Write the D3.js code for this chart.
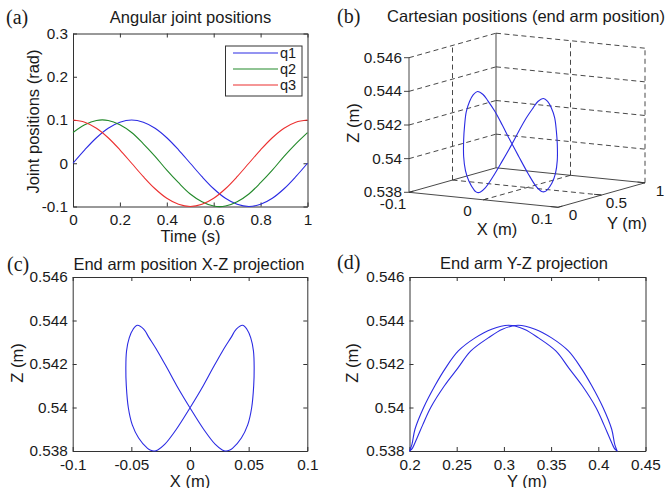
<!DOCTYPE html>
<html>
<head>
<meta charset="utf-8">
<script src="https://cdn.jsdelivr.net/npm/d3@7"></script>
<style>
  body { margin: 0; background: #fff; }
  text { font-family: "Liberation Sans", Arial, sans-serif; fill: #1a1a1a; }
  .serif { font-family: "Liberation Serif", "Times New Roman", serif; }
</style>
</head>
<body>
<svg id="fig" width="669" height="488"></svg>
<script>
// ---- Joint trajectories (rad) sampled every 0.05 s ----
const timeS = [0, 0.05, 0.1, 0.15, 0.2, 0.25, 0.3, 0.35, 0.4, 0.45, 0.5,
               0.55, 0.6, 0.65, 0.7, 0.75, 0.8, 0.85, 0.9, 0.95, 1];
const q1 = [0, 0.031, 0.059, 0.081, 0.095, 0.1, 0.095, 0.081, 0.059, 0.031, 0,
            -0.031, -0.059, -0.081, -0.095, -0.1, -0.095, -0.081, -0.059, -0.031, 0];
const q2 = [0.071, 0.089, 0.099, 0.099, 0.089, 0.071, 0.045, 0.016, -0.016, -0.045, -0.071,
            -0.089, -0.099, -0.099, -0.089, -0.071, -0.045, -0.016, 0.016, 0.045, 0.071];
const q3 = [0.1, 0.095, 0.081, 0.059, 0.031, 0, -0.031, -0.059, -0.081, -0.095, -0.1,
            -0.095, -0.081, -0.059, -0.031, 0, 0.031, 0.059, 0.081, 0.095, 0.1];
const jointNames = ["q1", "q2", "q3"];

// ---- End-effector path (m), one closed loop ----
const endX = [-0.0303, -0.0275, -0.0216, -0.0116, 0.0002, 0.0113, 0.0194, 0.0278, 0.0348, 0.0395, 0.0448,
              0.0485, 0.0518, 0.0541, 0.0547, 0.0543, 0.0526, 0.0492, 0.0438, 0.0362, 0.0335,
              0.0303, 0.0275, 0.0216, 0.0116, -0.0002, -0.0113, -0.0194, -0.0278, -0.0348, -0.0395, -0.0448,
              -0.0485, -0.0518, -0.0541, -0.0547, -0.0543, -0.0526, -0.0492, -0.0438, -0.0362, -0.0335];
const endY = [0.2000, 0.2005, 0.2026, 0.2058, 0.2150, 0.2269, 0.2380, 0.2517, 0.2695, 0.2870, 0.3050,
              0.3215, 0.3366, 0.3550, 0.3690, 0.3830, 0.3975, 0.4060, 0.4120, 0.4170, 0.4190,
              0.4200, 0.4195, 0.4174, 0.4142, 0.4050, 0.3931, 0.3820, 0.3683, 0.3505, 0.3330, 0.3150,
              0.2985, 0.2834, 0.2650, 0.2510, 0.2370, 0.2225, 0.2140, 0.2080, 0.2030, 0.2010];
const endZ = [0.5380, 0.53805, 0.5383, 0.5390, 0.5400, 0.5410, 0.5418, 0.5426, 0.5432, 0.5436, 0.54378,
              0.5436, 0.5432, 0.5426, 0.5418, 0.5410, 0.5400, 0.5392, 0.5386, 0.53812, 0.53803,
              0.5380, 0.53805, 0.5383, 0.5390, 0.5400, 0.5410, 0.5418, 0.5426, 0.5432, 0.5436, 0.54378,
              0.5436, 0.5432, 0.5426, 0.5418, 0.5410, 0.5400, 0.5392, 0.5386, 0.53812, 0.53803];

// ---- Tick values ----
const timeTicks = [0, 0.2, 0.4, 0.6, 0.8, 1];
const jointTicks = [-0.1, 0, 0.1, 0.2, 0.3];
const zTicks = [0.538, 0.54, 0.542, 0.544, 0.546];
const xTicks = [-0.1, -0.05, 0, 0.05, 0.1];
const yTicks = [0.2, 0.25, 0.3, 0.35, 0.4, 0.45];
const xTicks3d = [-0.1, 0, 0.1];
const yTicks3d = [0, 0.5, 1];

const jointColors = ["#2b2be3", "#22892a", "#ec2f2f"];
const pathColor = "#2b2be3";
const axisColor = "#333";
const TICK_FS = 15.3, LABEL_FS = 16.5;

const svg = d3.select("#fig");
const fmt = v => String(+v.toFixed(4));
const endPts = endX.map((x, i) => ({ x, y: endY[i], z: endZ[i] }));

function addText(txt, x, y, opts = {}) {
  const t = svg.append("text").attr("x", x).attr("y", y).text(txt)
    .attr("font-size", opts.size || LABEL_FS)
    .attr("text-anchor", opts.anchor || "middle");
  if (opts.cls) t.attr("class", opts.cls);
  if (opts.rotate) t.attr("x", 0).attr("y", 0)
    .attr("transform", `translate(${x},${y}) rotate(-90)`);
  return t;
}

// Framed 2-D axes with inward ticks on all four sides
function frame2d(box, xDom, yDom, xt, yt) {
  const x = d3.scaleLinear().domain(xDom).range([box.l, box.r]);
  const y = d3.scaleLinear().domain(yDom).range([box.b, box.t]);
  const g = svg.append("g");
  const style = sel => {
    sel.selectAll("path.domain").attr("stroke", axisColor).attr("stroke-width", 1);
    sel.selectAll(".tick line").attr("stroke", axisColor).attr("stroke-width", 1);
    sel.selectAll(".tick text").attr("font-size", TICK_FS).attr("fill", "#1a1a1a")
      .attr("font-family", '"Liberation Sans", Arial, sans-serif');
  };
  g.append("g").attr("transform", `translate(0,${box.b})`)
    .call(d3.axisBottom(x).tickValues(xt).tickFormat(fmt).tickSizeInner(-4).tickSizeOuter(0).tickPadding(8))
    .call(style);
  g.append("g").attr("transform", `translate(0,${box.t})`)
    .call(d3.axisTop(x).tickValues(xt).tickFormat("").tickSizeInner(-4).tickSizeOuter(0))
    .call(style);
  g.append("g").attr("transform", `translate(${box.l},0)`)
    .call(d3.axisLeft(y).tickValues(yt).tickFormat(fmt).tickSizeInner(-4).tickSizeOuter(0).tickPadding(5))
    .call(style);
  g.append("g").attr("transform", `translate(${box.r},0)`)
    .call(d3.axisRight(y).tickValues(yt).tickFormat("").tickSizeInner(-4).tickSizeOuter(0))
    .call(style);
  return { x, y };
}

// ---------- (a) Angular joint positions ----------
{
  const box = { l: 73, r: 307.5, t: 33.5, b: 206.5 };
  const { x, y } = frame2d(box, [0, 1], [-0.1, 0.3], timeTicks, jointTicks);
  const series = [q1, q2, q3];
  const line = d3.line().x((d, i) => x(timeS[i])).y(d => y(d)).curve(d3.curveCatmullRom);
  series.forEach((s, k) => {
    svg.append("path").datum(s).attr("d", line).attr("fill", "none")
      .attr("stroke", jointColors[k]).attr("stroke-width", 1.1);
  });
  // legend
  const lg = svg.append("g");
  lg.append("rect").attr("x", 225.5).attr("y", 46).attr("width", 76.5).attr("height", 50)
    .attr("fill", "#fff").attr("stroke", axisColor).attr("stroke-width", 1);
  jointNames.forEach((n, k) => {
    const yy = 53 + k * 16;
    lg.append("line").attr("x1", 233).attr("x2", 278).attr("y1", yy).attr("y2", yy)
      .attr("stroke", jointColors[k]).attr("stroke-width", 1.1);
    lg.append("text").attr("x", 280).attr("y", yy + 5).attr("font-size", 14.5).text(n);
  });
  addText("Angular joint positions", 190.5, 23);
  addText("Time (s)", 190.5, 241.5);
  addText("Joint positions (rad)", 38.5, 121.5, { rotate: true });
  addText("(a)", 6, 23.5, { cls: "serif", size: 20, anchor: "start" });
}

// ---------- (b) 3-D end-effector path ----------
{
  const sx = d3.scaleLinear().domain([-0.1, 0.1]).range([0, 1]);
  const sy = d3.scaleLinear().domain([0, 1]).range([0, 1]);
  const sz = d3.scaleLinear().domain([0.538, 0.546]).range([0, 1]);
  const origin = [409, 192.3], ex = [149, 15], ey = [87, -24.5], ez = [0, -134.6];
  const proj = (X, Y, Z) => {
    const a = sx(X), b = sy(Y), c = sz(Z);
    return [origin[0] + a * ex[0] + b * ey[0] + c * ez[0],
            origin[1] + a * ex[1] + b * ey[1] + c * ez[1]];
  };
  const [x0, x1] = sx.domain(), [y0, y1] = sy.domain(), [z0, z1] = sz.domain();
  const g = svg.append("g");
  const seg = (p, q, dashed) => g.append("line")
    .attr("x1", p[0]).attr("y1", p[1]).attr("x2", q[0]).attr("y2", q[1])
    .attr("stroke", axisColor).attr("stroke-width", 0.9)
    .attr("stroke-dasharray", dashed ? "5,3.5" : null);

  // grid on the back walls and floor
  zTicks.filter(z => z > z0).forEach(z => {
    seg(proj(x0, y0, z), proj(x0, y1, z), true);
    seg(proj(x0, y1, z), proj(x1, y1, z), true);
  });
  seg(proj(x0, 0.5, z0), proj(x0, 0.5, z1), true);
  xTicks3d.filter(v => v > x0).forEach(v => seg(proj(v, y1, z0), proj(v, y1, z1), true));
  seg(proj(0, y0, z0), proj(0, y1, z0), true);
  seg(proj(x0, 0.5, z0), proj(x1, 0.5, z0), true);

  // solid box edges and axes
  seg(proj(x0, y0, z0), proj(x1, y0, z0));
  seg(proj(x1, y0, z0), proj(x1, y1, z0));
  seg(proj(x0, y0, z0), proj(x0, y1, z0));
  seg(proj(x0, y1, z0), proj(x1, y1, z0));
  seg(proj(x0, y0, z0), proj(x0, y0, z1));
  seg(proj(x0, y1, z0), proj(x0, y1, z1));

  // ticks and labels
  zTicks.forEach(z => {
    const p = proj(x0, y0, z);
    seg([p[0] - 5, p[1]], p);
    addText(fmt(z), p[0] - 7, p[1] + 5, { size: TICK_FS, anchor: "end" });
  });
  xTicks3d.forEach(v => {
    const p = proj(v, y0, z0), q = proj(v, 0.05, z0);
    seg(p, q);
    addText(fmt(v), p[0] - 16, p[1] + 16.5, { size: TICK_FS });
  });
  yTicks3d.forEach(v => {
    const p = proj(x1, v, z0), q = proj(0.09, v, z0);
    seg(p, q);
    addText(fmt(v), p[0] + 15, p[1] + 13, { size: TICK_FS });
  });

  const line3 = d3.line().x(d => proj(d.x, d.y, d.z)[0]).y(d => proj(d.x, d.y, d.z)[1])
    .curve(d3.curveCatmullRomClosed);
  svg.append("path").datum(endPts).attr("d", line3).attr("fill", "none")
    .attr("stroke", pathColor).attr("stroke-width", 1.1);

  addText("Cartesian positions (end arm position)", 526, 22);
  addText("X (m)", 497, 235);
  addText("Y (m)", 627, 229);
  addText("Z (m)", 359, 123, { rotate: true });
  addText("(b)", 337, 22.5, { cls: "serif", size: 20, anchor: "start" });
}

// ---------- (c) X-Z projection ----------
{
  const box = { l: 72.7, r: 307.3, t: 277, b: 451 };
  const { x, y } = frame2d(box, [-0.1, 0.1], [0.538, 0.546], xTicks, zTicks);
  const line = d3.line().x(d => x(d.x)).y(d => y(d.z)).curve(d3.curveCatmullRomClosed);
  svg.append("path").datum(endPts).attr("d", line).attr("fill", "none")
    .attr("stroke", pathColor).attr("stroke-width", 1.1);
  addText("End arm position X-Z projection", 189, 269.5);
  addText("X (m)", 190, 486.5);
  addText("Z (m)", 23, 363, { rotate: true });
  addText("(c)", 7, 270.5, { cls: "serif", size: 20, anchor: "start" });
}

// ---------- (d) Y-Z projection ----------
{
  const box = { l: 409.5, r: 645.5, t: 277, b: 451 };
  const { x, y } = frame2d(box, [0.2, 0.45], [0.538, 0.546], yTicks, zTicks);
  const line = d3.line().x(d => x(d.y)).y(d => y(d.z)).curve(d3.curveCatmullRomClosed);
  svg.append("path").datum(endPts).attr("d", line).attr("fill", "none")
    .attr("stroke", pathColor).attr("stroke-width", 1.1);
  addText("End arm Y-Z projection", 524, 268.5);
  addText("Y (m)", 527, 486.5);
  addText("Z (m)", 358, 363, { rotate: true });
  addText("(d)", 337, 268.5, { cls: "serif", size: 20, anchor: "start" });
}
</script>
</body>
</html>
